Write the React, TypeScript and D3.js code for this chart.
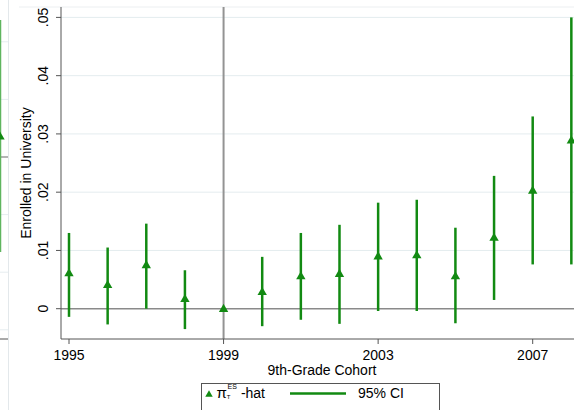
import { useEffect, useRef } from 'react';
import * as d3 from 'd3';

// cohort estimates (pi_T^ES-hat) and 95% CI
const years = [1995, 1996, 1997, 1998, 1999, 2000, 2001, 2002, 2003, 2004, 2005, 2006, 2007, 2008];
const est = [0.0061, 0.0041, 0.0075, 0.0017, 0, 0.0029, 0.0056, 0.006, 0.009, 0.0092, 0.0056, 0.0122, 0.0203, 0.0289];
const ciLo = [-0.0014, -0.0027, 0.0, -0.0035, 0, -0.003, -0.0019, -0.0026, -0.0004, -0.0004, -0.0025, 0.0015, 0.0076, 0.0076];
const ciHi = [0.013, 0.0105, 0.0146, 0.0066, 0, 0.0089, 0.013, 0.0144, 0.0182, 0.0187, 0.0139, 0.0228, 0.033, 0.05];
const yTicks = [0, 0.01, 0.02, 0.03, 0.04, 0.05];
const yTickLabels = ['0', '.01', '.02', '.03', '.04', '.05'];
const xTicks = [1995, 1999, 2003, 2007];

// neighbouring panel, cut off at the left edge
const leftEst = [0.0035];
const leftLo = [-0.0165];
const leftHi = [0.0238];
const leftGrid = [-0.03, -0.02, -0.01, 0.01, 0.02];

const green = '#128a12';
const font = '"Liberation Sans", Arial, sans-serif';

export default function App() {
  const ref = useRef(null);

  useEffect(() => {
    if (!ref.current) return;
    const svg = d3.select(ref.current);
    svg.selectAll('*').remove();
    const width = 574;
    const height = 410;
    svg.attr('width', width).attr('height', height);

    const left = 61;
    const top = 7;
    const bottom = 339;

    const x = d3.scaleLinear().domain([1995, 2007]).range([69, 532.7]);
    const y = d3.scaleLinear().domain([0, 0.05]).range([308.7, 17.4]);
    const yLeft = d3.scaleLinear().domain([0, 0.05]).range([157, -131]);

    svg.append('rect').attr('width', width).attr('height', height).attr('fill', '#fff');

    // left panel remnant
    const lp = svg.append('g');
    lp.selectAll('line.g')
      .data(leftGrid)
      .enter()
      .append('line')
      .attr('x1', 0).attr('x2', 8)
      .attr('y1', (d) => yLeft(d)).attr('y2', (d) => yLeft(d))
      .attr('stroke', '#e6edf0').attr('stroke-width', 1);
    lp.append('line')
      .attr('x1', 0).attr('x2', 8).attr('y1', yLeft(0)).attr('y2', yLeft(0))
      .attr('stroke', '#8c8c8c').attr('stroke-width', 1.3);
    lp.append('line')
      .attr('x1', 0).attr('x2', 8).attr('y1', bottom).attr('y2', bottom)
      .attr('stroke', '#555').attr('stroke-width', 1);
    leftEst.forEach((e, i) => {
      lp.append('line')
        .attr('x1', 0).attr('x2', 0)
        .attr('y1', yLeft(leftLo[i])).attr('y2', yLeft(leftHi[i]))
        .attr('stroke', '#5fb55f').attr('stroke-width', 2.5);
      lp.append('path')
        .attr('d', d3.symbol(d3.symbolTriangle, 38)()!)
        .attr('transform', `translate(0,${yLeft(e)})`)
        .attr('fill', green);
    });
    svg.append('line')
      .attr('x1', 8.5).attr('x2', 8.5).attr('y1', 0).attr('y2', height)
      .attr('stroke', '#e3e8eb').attr('stroke-width', 1);
    svg.append('line')
      .attr('x1', 19).attr('x2', width).attr('y1', top).attr('y2', top)
      .attr('stroke', '#eceff1').attr('stroke-width', 1);

    // gridlines
    svg.selectAll('line.grid')
      .data(yTicks.filter((d) => d !== 0))
      .enter()
      .append('line')
      .attr('x1', left).attr('x2', width)
      .attr('y1', (d) => y(d)).attr('y2', (d) => y(d))
      .attr('stroke', '#e4ecef').attr('stroke-width', 1);

    // zero line and reference year
    svg.append('line')
      .attr('x1', left).attr('x2', width).attr('y1', y(0)).attr('y2', y(0))
      .attr('stroke', '#8a8a8a').attr('stroke-width', 1.5);
    svg.append('line')
      .attr('x1', x(1999)).attr('x2', x(1999)).attr('y1', top).attr('y2', bottom)
      .attr('stroke', '#939393').attr('stroke-width', 2);

    // axes
    svg.append('line')
      .attr('x1', left).attr('x2', left).attr('y1', top).attr('y2', bottom)
      .attr('stroke', '#555').attr('stroke-width', 1);
    svg.append('line')
      .attr('x1', left).attr('x2', width).attr('y1', bottom).attr('y2', bottom)
      .attr('stroke', '#555').attr('stroke-width', 1);

    svg.selectAll('line.yt')
      .data(yTicks)
      .enter()
      .append('line')
      .attr('x1', left - 5).attr('x2', left)
      .attr('y1', (d) => y(d)).attr('y2', (d) => y(d))
      .attr('stroke', '#555');
    svg.selectAll('text.yt')
      .data(yTicks)
      .enter()
      .append('text')
      .attr('transform', (d) => `translate(48,${y(d)}) rotate(-90)`)
      .attr('text-anchor', 'middle')
      .attr('font-family', font)
      .attr('font-size', 14)
      .attr('fill', '#000')
      .text((d, i) => yTickLabels[i]);
    svg.append('text')
      .attr('transform', `translate(31,${(top + bottom) / 2}) rotate(-90)`)
      .attr('text-anchor', 'middle')
      .attr('font-family', font)
      .attr('font-size', 14)
      .attr('fill', '#000')
      .text('Enrolled in University');

    svg.selectAll('line.xt')
      .data(xTicks)
      .enter()
      .append('line')
      .attr('x1', (d) => x(d)).attr('x2', (d) => x(d))
      .attr('y1', bottom).attr('y2', bottom + 5)
      .attr('stroke', '#555');
    svg.selectAll('text.xt')
      .data(xTicks)
      .enter()
      .append('text')
      .attr('x', (d) => x(d))
      .attr('y', 360)
      .attr('text-anchor', 'middle')
      .attr('font-family', font)
      .attr('font-size', 14)
      .attr('fill', '#000')
      .text((d) => String(d));
    svg.append('text')
      .attr('x', 322)
      .attr('y', 375)
      .attr('text-anchor', 'middle')
      .attr('font-family', font)
      .attr('font-size', 14)
      .attr('fill', '#000')
      .text('9th-Grade Cohort');

    // CI bars and estimates
    const pts = years.map((yr, i) => ({ yr, e: est[i], lo: ciLo[i], hi: ciHi[i] }));
    svg.selectAll('line.ci')
      .data(pts.filter((d) => d.hi !== d.lo))
      .enter()
      .append('line')
      .attr('x1', (d) => x(d.yr)).attr('x2', (d) => x(d.yr))
      .attr('y1', (d) => y(d.lo)).attr('y2', (d) => y(d.hi))
      .attr('stroke', green).attr('stroke-width', 2.5);
    svg.selectAll('path.pt')
      .data(pts)
      .enter()
      .append('path')
      .attr('d', d3.symbol(d3.symbolTriangle, 38)()!)
      .attr('transform', (d) => `translate(${x(d.yr)},${y(d.e) + 0.5})`)
      .attr('fill', green);

    // legend
    const lg = svg.append('g');
    lg.append('rect')
      .attr('x', 201.5).attr('y', 383.5).attr('width', 238).attr('height', 40)
      .attr('fill', '#fff').attr('stroke', '#555').attr('stroke-width', 1);
    lg.append('path')
      .attr('d', d3.symbol(d3.symbolTriangle, 24)()!)
      .attr('transform', 'translate(209,394.5)')
      .attr('fill', green);
    const lt = lg.append('text')
      .attr('x', 216.5).attr('y', 398)
      .attr('font-family', font).attr('font-size', 14).attr('fill', '#000');
    lt.append('tspan').attr('font-size', 15).text('π');
    lt.append('tspan').attr('font-size', 6).attr('dx', 0).attr('dy', 1).text('T');
    lt.append('tspan').attr('font-size', 7).attr('dx', -3).attr('dy', -10).text('ES');
    lt.append('tspan').attr('dx', 4).attr('dy', 9).text('-hat');
    lg.append('line')
      .attr('x1', 290).attr('x2', 346).attr('y1', 393.5).attr('y2', 393.5)
      .attr('stroke', green).attr('stroke-width', 2.5);
    lg.append('text')
      .attr('x', 358).attr('y', 398)
      .attr('font-family', font).attr('font-size', 14).attr('fill', '#000')
      .text('95% CI');
  }, []);

  return <svg ref={ref} style={{ position: 'absolute', left: 0, top: 0 }} />;
}
